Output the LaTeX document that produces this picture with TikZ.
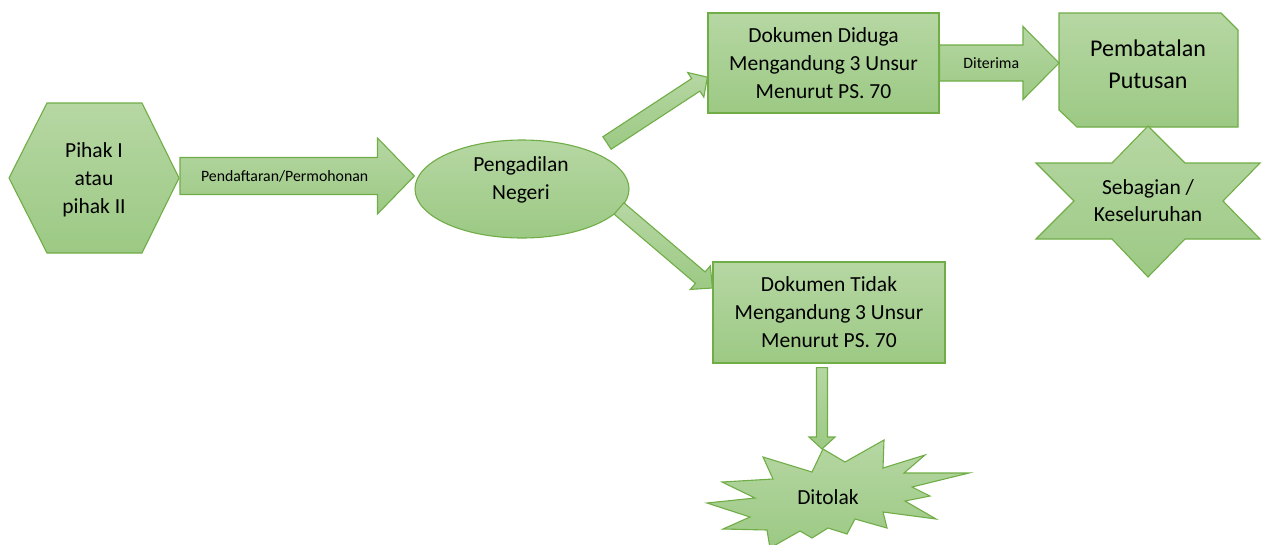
\documentclass[tikz,border=0pt]{standalone}
\usepackage{fontspec}
\setmainfont{Carlito}
\usetikzlibrary{calc,shapes.geometric}

\definecolor{greenTop}{HTML}{B6D7A3}
\definecolor{greenBot}{HTML}{9CC984}
\definecolor{greenEdge}{HTML}{70AD47}

\newcommand{\bigtext}{\fontsize{21.5}{28}\selectfont}
\newcommand{\smalltext}{\fontsize{15.8}{19}\selectfont}

\tikzset{
	greenfill/.style={top color=greenTop, bottom color=greenBot, draw=greenEdge, line width=1.1pt, line join=miter},
	boxnode/.style={greenfill, rectangle, minimum width=231pt, minimum height=100pt, inner sep=0pt, align=center, font=\bigtext},
	textnode/.style={align=center, font=\bigtext, inner sep=0pt},
	arrowlabel/.style={font=\smalltext, inner sep=0pt}
}

% block arrow: tail, tip, half shaft, half head, head length
\newcommand{\blockarrow}[5]{%
	\coordinate (ahead) at ($(#2)!#5!(#1)$);
	\path[greenfill] ($(#1)!#3!90:(#2)$) -- ($(ahead)!#3!90:(#2)$) -- ($(ahead)!#4!90:(#2)$) -- (#2)
		-- ($(ahead)!#4!-90:(#2)$) -- ($(ahead)!#3!-90:(#2)$) -- ($(#1)!#3!-90:(#2)$) -- cycle;
}

\begin{document}
\begin{tikzpicture}[x=1pt, y=-1pt]
	\useasboundingbox (0,0) rectangle (1265,544);

	% hexagon
	\path[greenfill] (9,178) -- (47,103) -- (142,103) -- (179,178) -- (142,253) -- (47,253) -- cycle;
	\node[textnode] (pihak) at (94,180) {Pihak I\\atau\\pihak II};

	% court
	\node[greenfill, ellipse, minimum width=214pt, minimum height=98pt, inner sep=0pt] (ell) at (522,189) {};
	\node[textnode] (pengadilan) at (521,180) {Pengadilan\\Negeri};

	% documents
	\node[boxnode] (dok1) at (823.5,63) {Dokumen Diduga\\Mengandung 3 Unsur\\Menurut PS. 70};
	\node[boxnode, minimum width=232pt, minimum height=101pt] (dok2) at (829,312.5) {Dokumen Tidak\\Mengandung 3 Unsur\\Menurut PS. 70};

	% annulment (snipped corners)
	\path[greenfill] (1059,13) -- (1221,13) -- (1238,30) -- (1238,127) -- (1077,127) -- (1059,110) -- cycle;
	\coordinate (batalW) at (1059,63);
	\node[textnode, font=\fontsize{24}{32}\selectfont] (batal) at (1148,64) {Pembatalan\\Putusan};

	% star
	\path[greenfill] (1148,126) -- (1185,163) -- (1260,163) -- (1223,201) -- (1260,239) -- (1185,239)
		-- (1148,277) -- (1112,239) -- (1036,239) -- (1074,201) -- (1036,163) -- (1112,163) -- cycle;
	\node[textnode, font=\fontsize{21.5}{27}\selectfont] (sebagian) at (1148,201) {Sebagian /\\Keseluruhan};

	% explosion
	\coordinate (boomTop) at (823,449);
	\path[greenfill] (boomTop) -- (845,462) -- (884,440) -- (883,468) -- (925,455) -- (904,473) -- (969,473)
		-- (912,487) -- (930,496) -- (905,501) -- (936,519) -- (883,512) -- (887,528) -- (855,519) -- (847,534)
		-- (828,528) -- (812,538) -- (800,531) -- (770,548) -- (767,530) -- (723,529) -- (750,517) -- (707,503)
		-- (755,498) -- (722,482) -- (773,479) -- (763,457) -- (812,472) -- cycle;
	\node[textnode] (ditolak) at (828,497) {Ditolak};

	% connectors
	\coordinate (hexE) at (180,176);
	\blockarrow{hexE}{hexE -| ell.west}{18.5pt}{38pt}{37pt}
	\node[arrowlabel] (lblDaftar) at ($(hexE)!0.53!(ahead)$) {Pendaftaran/Permohonan};

	\coordinate (upTail) at (607,143);
	\coordinate (upTip) at ($(dok1.south west)!0.36!(dok1.north west)$);
	\blockarrow{upTail}{upTip}{7.5pt}{14.7pt}{14pt}

	\coordinate (dnTail) at (619,208.5);
	\coordinate (dnTip) at ($(dok2.south west)!0.74!(dok2.north west)$);
	\blockarrow{dnTail}{dnTip}{7.5pt}{15.5pt}{16pt}

	\blockarrow{dok1.east}{batalW}{18pt}{36.5pt}{36pt}
	\node[arrowlabel] (lblTerima) at ($(dok1.east)!0.62!(ahead)$) {Diterima};

	\coordinate (dokS) at ($(dok2.south)+(-7,4)$);
	\blockarrow{dokS}{dokS |- boomTop}{5.5pt}{13pt}{12pt}
\end{tikzpicture}
\end{document}
